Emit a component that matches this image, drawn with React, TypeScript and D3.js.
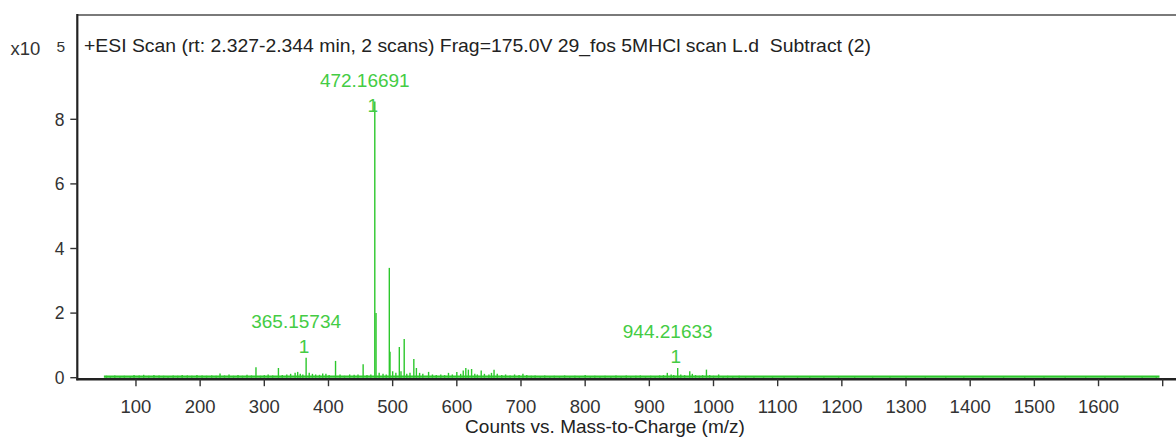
import React from "react";
import * as d3 from "d3";

const title = "+ESI Scan (rt: 2.327-2.344 min, 2 scans) Frag=175.0V 29_fos 5MHCl scan L.d  Subtract (2)";
const xAxisTitle = "Counts vs. Mass-to-Charge (m/z)";
const xTicks = [100, 200, 300, 400, 500, 600, 700, 800, 900, 1000, 1100, 1200, 1300, 1400, 1500, 1600, 1700];
const yTicks = [0, 2, 4, 6, 8];

// main peaks (m/z, counts x10^5)
const mainMz = [472.16691, 474.1, 494.8, 495.9, 510.4, 518.0, 365.15734, 944.21633];
const mainInt = [8.55, 2.0, 3.4, 0.8, 0.95, 1.2, 0.62, 0.3];

// labelled peaks
const labelMz = [472.16691, 365.15734, 944.21633];
const labelInt = [8.55, 0.62, 0.3];
const labelText = ["472.16691", "365.15734", "944.21633"];

// minor peaks / noise
const minorPeaks: [number, number][] = [
  [54, 0.06], [60, 0.05], [67, 0.07], [75, 0.04], [82, 0.06], [91, 0.05], [97, 0.08], [105, 0.07],
  [112, 0.09], [120, 0.06], [128, 0.08], [136, 0.07], [143, 0.06], [150, 0.05], [158, 0.07], [165, 0.06],
  [172, 0.08], [180, 0.07], [187, 0.06], [195, 0.08], [203, 0.07], [210, 0.06], [218, 0.07], [225, 0.06],
  [231, 0.13], [238, 0.07], [245, 0.1], [252, 0.06], [259, 0.08], [266, 0.06], [273, 0.09], [280, 0.07],
  [287, 0.32], [294, 0.06], [300, 0.08], [306, 0.1], [313, 0.07], [322, 0.3], [328, 0.08], [335, 0.1],
  [341, 0.12], [348, 0.15], [352, 0.18], [356, 0.12], [360, 0.1], [370, 0.15], [375, 0.12], [380, 0.1],
  [386, 0.09], [391, 0.13], [396, 0.12], [401, 0.08], [411, 0.52], [418, 0.1], [425, 0.06], [433, 0.1],
  [440, 0.09], [446, 0.1], [454, 0.42], [460, 0.08], [466, 0.1], [479, 0.15], [485, 0.12], [490, 0.1],
  [500, 0.2], [505, 0.15], [513, 0.2], [522, 0.12], [527, 0.15], [533, 0.58], [537, 0.3], [542, 0.15],
  [547, 0.12], [556, 0.18], [562, 0.1], [568, 0.08], [575, 0.1], [581, 0.08], [587, 0.15], [593, 0.1],
  [600, 0.18], [606, 0.12], [610, 0.22], [614, 0.3], [618, 0.25], [623, 0.27], [628, 0.12], [632, 0.1],
  [638, 0.22], [643, 0.12], [650, 0.1], [654, 0.15], [658, 0.25], [663, 0.12], [670, 0.08], [676, 0.1],
  [683, 0.07], [690, 0.1], [697, 0.08], [703, 0.12], [709, 0.08], [716, 0.06], [722, 0.07], [730, 0.05],
  [737, 0.07], [745, 0.05], [752, 0.06], [760, 0.05], [768, 0.07], [776, 0.05], [784, 0.06], [791, 0.05],
  [800, 0.08], [808, 0.05], [815, 0.06], [823, 0.05], [831, 0.06], [840, 0.05], [848, 0.07], [856, 0.05],
  [864, 0.07], [871, 0.05], [879, 0.06], [886, 0.07], [894, 0.05], [902, 0.06], [909, 0.05], [916, 0.07],
  [922, 0.08], [928, 0.15], [934, 0.1], [938, 0.08], [949, 0.1], [955, 0.08], [963, 0.2], [967, 0.12],
  [972, 0.08], [978, 0.06], [983, 0.08], [989, 0.25], [994, 0.08], [1000, 0.06], [1008, 0.1], [1015, 0.05],
  [1022, 0.06], [1030, 0.05], [1040, 0.06], [1050, 0.04], [1063, 0.04], [1078, 0.05], [1092, 0.04],
  [1110, 0.04], [1131, 0.05], [1150, 0.04], [1172, 0.04], [1195, 0.05], [1220, 0.04], [1248, 0.04],
  [1275, 0.05], [1300, 0.04], [1330, 0.04], [1362, 0.05], [1390, 0.04], [1420, 0.05], [1452, 0.04],
  [1485, 0.05], [1515, 0.04], [1548, 0.05], [1580, 0.04], [1610, 0.05], [1640, 0.04], [1668, 0.04], [1690, 0.04],
];
const baselineRange = [50, 1695];

const GREEN = "#2cc72c";
const LABEL_GREEN = "#44cc44";
const FONT = "'Liberation Sans', Arial, Helvetica, sans-serif";

export default function App() {
  const x = d3.scaleLinear().domain([0, 1700]).range([71.8, 1162.7]);
  const y = d3.scaleLinear().domain([0, 8]).range([377.7, 119.3]);
  const axisX = 77.3;
  const axisY = 379.2;
  const topY = 15;

  const peaks = [
    ...minorPeaks.map(([m, v]) => ({ m, v })),
    ...mainMz.map((m, i) => ({ m, v: mainInt[i] })),
  ];

  return (
    <svg
      width={1176}
      height={439}
      style={{ position: "absolute", left: 0, top: 0, background: "#fff" }}
      fontFamily={FONT}
    >
      {/* top frame line */}
      <line x1={axisX} x2={1176} y1={topY} y2={topY} stroke="#7a7a7a" strokeWidth={2} />

      {/* baseline noise */}
      <line
        x1={x(baselineRange[0])}
        x2={x(baselineRange[1])}
        y1={y(0.035)}
        y2={y(0.035)}
        stroke={GREEN}
        strokeWidth={2.2}
      />

      {/* peaks */}
      {peaks.map((p, i) => (
        <line
          key={i}
          x1={x(p.m)}
          x2={x(p.m)}
          y1={y(0)}
          y2={y(p.v)}
          stroke={GREEN}
          strokeWidth={1.4}
        />
      ))}

      {/* axes */}
      <line x1={axisX} x2={axisX} y1={topY - 1} y2={axisY + 1} stroke="#222" strokeWidth={2.2} />
      <line x1={axisX - 1} x2={1176} y1={axisY} y2={axisY} stroke="#222" strokeWidth={2.6} />

      {yTicks.map((t) => (
        <g key={t}>
          <line x1={axisX - 7} x2={axisX} y1={y(t)} y2={y(t)} stroke="#333" strokeWidth={1.4} />
          <text x={64.5} y={y(t)} dy="0.36em" textAnchor="end" fontSize={17.5} fill="#333">
            {t}
          </text>
        </g>
      ))}
      {xTicks.map((t) => (
        <g key={t}>
          <line x1={x(t)} x2={x(t)} y1={axisY} y2={axisY + 7} stroke="#333" strokeWidth={1.4} />
          {t < 1700 && (
            <text x={x(t)} y={412.5} textAnchor="middle" fontSize={18.5} fill="#333">
              {t}
            </text>
          )}
        </g>
      ))}

      {/* y multiplier */}
      <text x={10.5} y={55} fontSize={18.5} fill="#333">x10</text>
      <text x={56.5} y={52} fontSize={15.5} fill="#333">5</text>

      {/* title */}
      <text
        x={84}
        y={51.5}
        fontSize={19}
        fill="#222"
        style={{ whiteSpace: "pre" }}
        textLength={787}
        lengthAdjust="spacingAndGlyphs"
      >
        {title}
      </text>

      {/* x axis title */}
      <text x={605} y={433} textAnchor="middle" fontSize={19} fill="#222">{xAxisTitle}</text>

      {/* peak labels */}
      {labelMz.map((m, i) => {
        const top = y(labelInt[i]);
        const oneBase = Math.max(top - 5, 112);
        return (
          <g key={m}>
            <text x={x(m) - 10} y={oneBase - 25} textAnchor="middle" fontSize={19} fill={LABEL_GREEN}>
              {labelText[i]}
            </text>
            <text x={x(m) - 2} y={oneBase} textAnchor="middle" fontSize={19} fill={LABEL_GREEN}>
              1
            </text>
          </g>
        );
      })}
    </svg>
  );
}
